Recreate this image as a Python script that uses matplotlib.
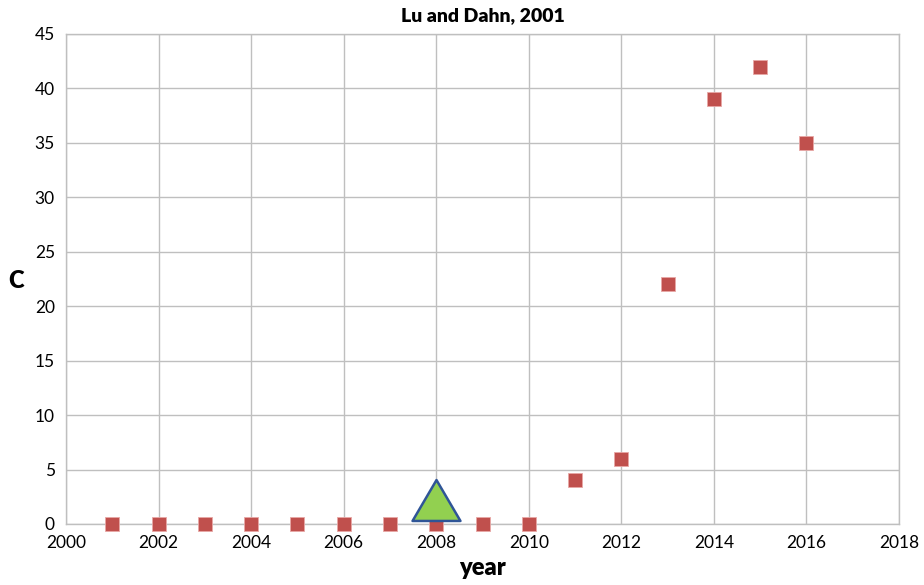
import matplotlib
matplotlib.use("Agg")
import matplotlib.pyplot as plt
from matplotlib.path import Path

years = [2001, 2002, 2003, 2004, 2005, 2006, 2007, 2008, 2009, 2010,
         2011, 2012, 2013, 2014, 2015, 2016]
citations = [0, 0, 0, 0, 0, 0, 0, 0, 0, 0, 4, 6, 22, 39, 42, 35]
pub_year = [2008]
pub_mark = [2.2]

plt.rcParams["font.family"] = ["Lato", "DejaVu Sans"]

fig = plt.figure(figsize=(9.24, 5.85), dpi=100)
ax = fig.add_axes([66 / 924, 61 / 585, 833 / 924, 490 / 585])

ax.plot(years, citations, linestyle="none", marker="s", markersize=9.5,
        color="#C0504D", markeredgecolor="#E8A8A6", markeredgewidth=0.6,
        zorder=3, clip_on=False)
# wide triangle, closed so all three sides get an outline
tri = Path([(0, 0.854), (-1, -0.854), (1, -0.854), (0, 0.854)],
           [Path.MOVETO, Path.LINETO, Path.LINETO, Path.CLOSEPOLY])
ax.plot(pub_year, pub_mark, linestyle="none", marker=tri, markersize=34.5,
        markerfacecolor="#92D050", markeredgecolor="#2F5597",
        markeredgewidth=1.8, zorder=4, clip_on=False)

ax.set_xlim(2000, 2018)
ax.set_ylim(0, 45)
ax.set_xticks(range(2000, 2019, 2))
ax.set_yticks(range(0, 46, 5))
ax.tick_params(length=0, labelsize=12.5, pad=8)
ax.grid(True, color="#BFBFBF", linewidth=1)
ax.set_axisbelow(True)
for s in ax.spines.values():
    s.set_color("#BFBFBF")
    s.set_linewidth(1)

ax.set_title("Lu and Dahn, 2001", fontsize=14, fontweight="heavy", pad=9)
ax.set_xlabel("year", fontsize=17, fontweight="heavy", labelpad=4)
fig.text(16 / 924, 1 - 281 / 585, "C", fontsize=17, fontweight="heavy",
         ha="center", va="center")

fig.savefig("out.png", dpi=100)
